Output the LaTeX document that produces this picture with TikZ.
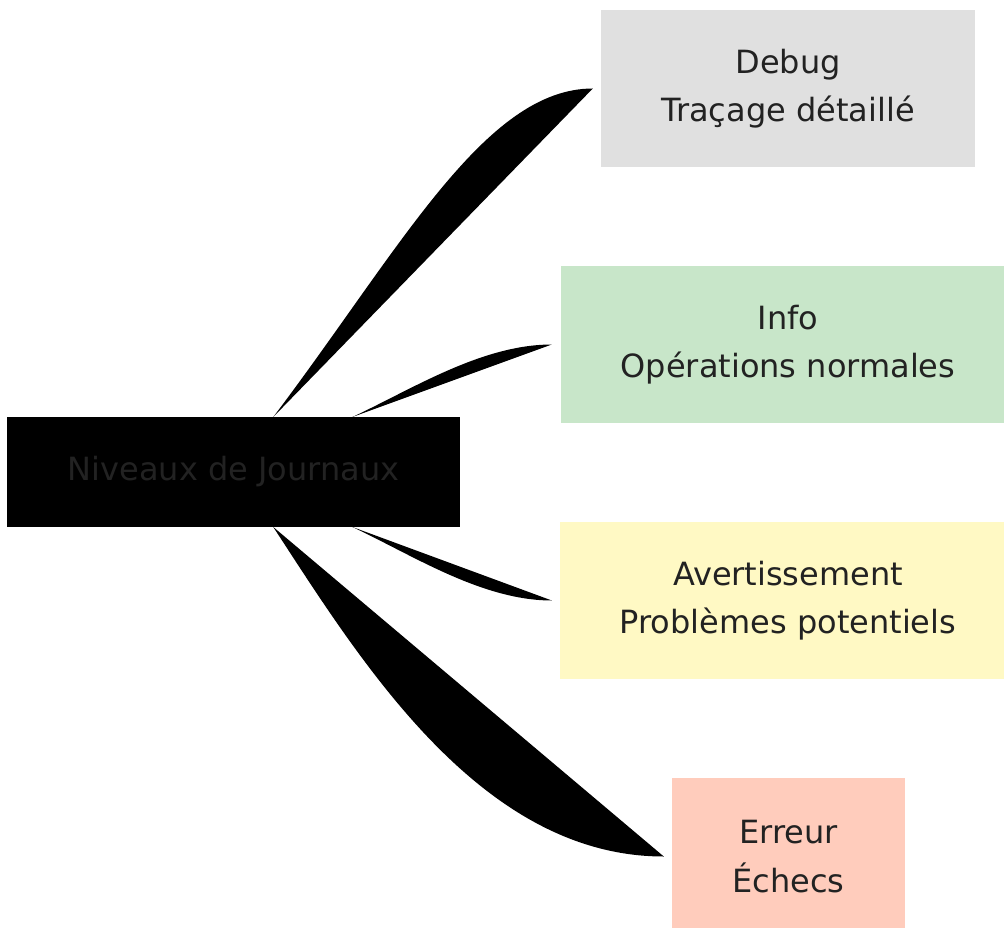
\documentclass[tikz,border=0pt]{standalone}
\usepackage{fontspec}
\setmainfont{DejaVu Sans}
\usetikzlibrary{calc}
\definecolor{txt}{RGB}{34,34,34}
\definecolor{cdebug}{HTML}{E0E0E0}
\definecolor{cinfo}{HTML}{C8E6C9}
\definecolor{cwarn}{HTML}{FFF9C4}
\definecolor{cerr}{HTML}{FFCCBC}
\begin{document}
\begin{tikzpicture}[x=1pt,y=-1pt,
  box/.style={rectangle, inner sep=0pt, text=txt, align=center,
    font=\fontsize{32}{48.5}\selectfont, minimum height=157pt},
  edgeshape/.style={fill=black}]
\useasboundingbox (0,0) rectangle (1004,928);
\clip (0,0) rectangle (1004,928);
\fill[white] (0,0) rectangle (1004,928);
% nodes
\node[box, fill=black, minimum width=453pt, minimum height=109.5pt] (root) at (233.5,472) {Niveaux de Journaux};
\node[box, fill=cdebug, minimum width=374pt] (debug) at (788,88.5) {Debug\\Traçage détaillé};
\node[box, fill=cinfo, minimum width=454pt] (info) at (788,344.5) {Info\\Opérations normales};
\node[box, fill=cwarn, minimum width=456pt] (warn) at (788,600.5) {Avertissement\\Problèmes potentiels};
\node[box, fill=cerr, minimum width=233pt] (err) at (788.5,856.5) {Erreur\\Échecs};
% connector end points
\coordinate (s1) at ($(root.north west)!0.5876!(root.north east)$);
\coordinate (s2) at ($(root.north west)!0.7620!(root.north east)$);
\coordinate (s3) at ($(root.south west)!0.7620!(root.south east)$);
\coordinate (s4) at ($(root.south west)!0.5876!(root.south east)$);
\coordinate (e1) at ($(debug.west)+(-8,0)$);
\coordinate (e2) at ($(info.west)+(-9,0)$);
\coordinate (e3) at ($(warn.west)+(-8,0)$);
\coordinate (e4) at ($(err.west)+(-8,0)$);
% connectors
\fill[edgeshape] (s1) .. controls ($(s1)+(127,-168)$) and ($(e1)+(-108,0)$) .. (e1) -- cycle;
\fill[edgeshape] (s2) .. controls ($(s2)+(60,-28)$) and ($(e2)+(-70,0)$) .. (e2) -- cycle;
\fill[edgeshape] (s3) .. controls ($(s3)+(60,28)$) and ($(e3)+(-70,0)$) .. (e3) -- cycle;
\fill[edgeshape] (s4) .. controls ($(s4)+(87,133)$) and ($(e4)+(-184,0)$) .. (e4) -- cycle;
\end{tikzpicture}
\end{document}
